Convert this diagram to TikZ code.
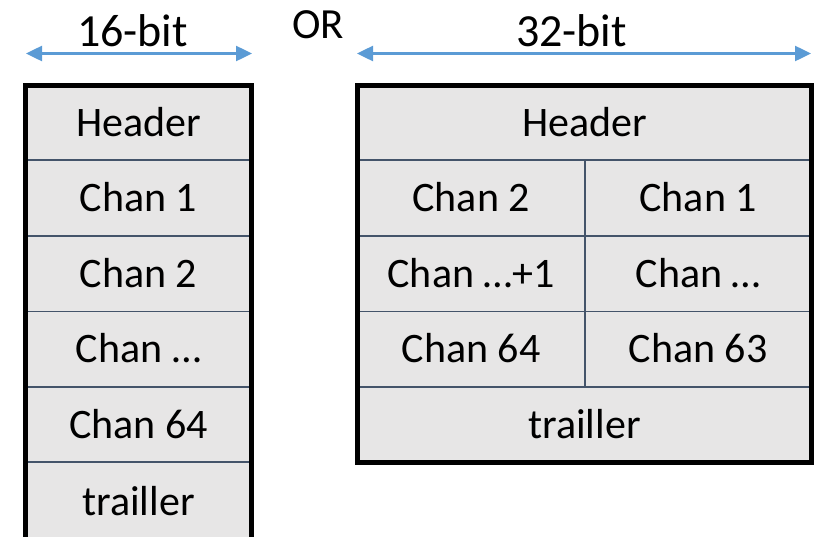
\documentclass[tikz,border=0pt]{standalone}
\usepackage{fontspec}
\setmainfont{Carlito}
\usetikzlibrary{arrows.meta}
\definecolor{cellfill}{HTML}{E7E6E6}
\definecolor{sepline}{HTML}{44546A}
\definecolor{arrowblue}{HTML}{5B9BD5}
\begin{document}
\begin{tikzpicture}[x=1pt,y=-1pt,
  cell/.style={draw=sepline,line width=1.5pt,fill=cellfill,inner sep=0pt,outer sep=0pt,
    text height=27pt,text depth=0pt,font=\fontsize{42}{50}\selectfont},
  lbl/.style={inner sep=0pt,anchor=base,font=\fontsize{46}{54}\selectfont},
  outerbox/.style={draw=black,line width=5pt},
  widtharrow/.style={draw=arrowblue,line width=2.5pt,
    {Triangle[length=16pt,width=15pt]}-{Triangle[length=16pt,width=15pt]}}]
\useasboundingbox (0,0) rectangle (820,536);
\begin{scope}
\clip (0,0) rectangle (820,536);
% labels
\node[lbl] (t16) at (132.5,46.7) {16-bit};
\node[lbl,font=\fontsize{43}{50}\selectfont] (tor) at (318,38.5) {OR};
\node[lbl] (t32) at (571.5,46.7) {32-bit};
\coordinate (a16l) at (26,53.5);
\coordinate (a16r) at (252,53.5);
\coordinate (a32l) at (357,53.5);
\coordinate (a32r) at (811,53.5);
\draw[widtharrow] (a16l) -- (a16r);
\draw[widtharrow] (a32l) -- (a32r);
% left 16-bit column
\node[cell,minimum width=226pt,minimum height=75pt] (lh) at (138.5,122.5) {Header};
\node[cell,minimum width=226pt,minimum height=76pt] (l1) at (138.5,198) {Chan 1};
\node[cell,minimum width=226pt,minimum height=75.5pt] (l2) at (138.5,273.75) {Chan 2};
\node[cell,minimum width=226pt,minimum height=75.5pt] (l3) at (138.5,349.25) {Chan …};
\node[cell,minimum width=226pt,minimum height=75pt] (l64) at (138.5,424.5) {Chan 64};
\node[cell,minimum width=226pt,minimum height=79pt] (lt) at (138.5,501.5) {trailler};
\draw[outerbox] (lh.north west) rectangle ([yshift=-20pt]lt.south east);
% right 32-bit block
\node[cell,minimum width=454pt,minimum height=75pt] (rh) at (584.5,122.5) {Header};
\node[cell,minimum width=227.5pt,minimum height=76pt] (r2) at (471.25,198) {Chan 2};
\node[cell,minimum width=226.5pt,minimum height=76pt] (r1) at (698.25,198) {Chan 1};
\node[cell,minimum width=227.5pt,minimum height=75.5pt] (rp1) at (471.25,273.75) {Chan …+1};
\node[cell,minimum width=226.5pt,minimum height=75.5pt] (rp) at (698.25,273.75) {Chan …};
\node[cell,minimum width=227.5pt,minimum height=75.5pt] (r64) at (471.25,349.25) {Chan 64};
\node[cell,minimum width=226.5pt,minimum height=75.5pt] (r63) at (698.25,349.25) {Chan 63};
\node[cell,minimum width=454pt,minimum height=75pt] (rt) at (584.5,424.5) {trailler};
\draw[outerbox] (rh.north west) rectangle (rt.south east);
\end{scope}
\end{tikzpicture}
\end{document}
